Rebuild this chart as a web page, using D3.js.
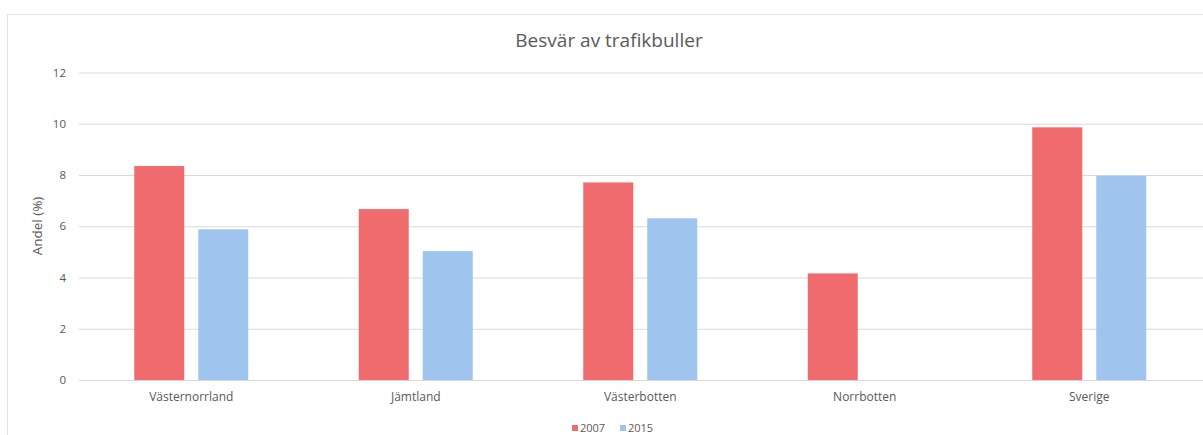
<!DOCTYPE html>
<html>
<head>
<meta charset="utf-8">
<script src="https://cdn.jsdelivr.net/npm/d3@7"></script>
<style>
    body { margin: 0; background: #fff; }
    text { font-family: "Open Sans", sans-serif; fill: #595959; }
</style>
</head>
<body>
<div id="my_chart"></div>
<script>
var categories = ["Västernorrland", "Jämtland", "Västerbotten", "Norrbotten", "Sverige"];
var seriesNames = ["2007", "2015"];
var values2007 = [8.35, 6.67, 7.71, 4.16, 9.86];
var values2015 = [5.88, 5.03, 6.31, null, 7.97];
var yTicks = [0, 2, 4, 6, 8, 10, 12];

var width = 1203, height = 435;
var colors = { "2007": "#EF6B6D", "2015": "#9FC5EE" };

var svg = d3.select("#my_chart")
    .append("svg")
    .attr("width", width)
    .attr("height", height);

// chart frame
svg.append("rect")
    .attr("x", 7.5)
    .attr("y", 14.5)
    .attr("width", 1300)
    .attr("height", 500)
    .attr("fill", "none")
    .attr("stroke", "#e3e3e3");

var xscale = d3.scaleBand()
    .domain(categories)
    .range([79, 1201.5])
    .padding(0);

var xinner = d3.scaleBand()
    .domain(seriesNames)
    .range([-57, 57])
    .paddingInner(14 / 64)
    .paddingOuter(0);

var yscale = d3.scaleLinear()
    .domain([0, 12])
    .range([380, 72.5]);

// gridlines
svg.append("g")
    .selectAll("line")
    .data(yTicks)
    .enter()
    .append("line")
    .attr("x1", 79)
    .attr("x2", 1203)
    .attr("y1", d => yscale(d) + 0.5)
    .attr("y2", d => yscale(d) + 0.5)
    .attr("stroke", "#d9d9d9")
    .attr("stroke-width", 1);

// y axis labels
var yAxis = svg.append("g")
    .attr("transform", "translate(79,0)")
    .call(d3.axisLeft(yscale).tickValues(yTicks).tickSize(0).tickPadding(13));
yAxis.select(".domain").remove();
yAxis.selectAll("text")
    .style("font-size", "11.5px")
    .style("font-family", "'Open Sans', sans-serif")
    .attr("fill", "#595959");

// x axis labels
var xAxis = svg.append("g")
    .attr("transform", "translate(0,380)")
    .call(d3.axisBottom(xscale).tickSize(0).tickPadding(12));
xAxis.select(".domain").remove();
xAxis.selectAll("text")
    .style("font-size", "12px")
    .style("font-family", "'Open Sans', sans-serif")
    .attr("fill", "#595959");

// bars
var barData = [];
categories.forEach(function(c, i) {
    barData.push({ cat: c, series: "2007", value: values2007[i] });
    barData.push({ cat: c, series: "2015", value: values2015[i] });
});

svg.append("g")
    .selectAll("rect")
    .data(barData.filter(d => d.value != null))
    .enter()
    .append("rect")
    .attr("x", d => xscale(d.cat) + xscale.bandwidth() / 2 + xinner(d.series))
    .attr("y", d => yscale(d.value))
    .attr("width", xinner.bandwidth())
    .attr("height", d => yscale(0) - yscale(d.value))
    .attr("fill", d => colors[d.series]);

// title
svg.append("text")
    .attr("x", 609)
    .attr("y", 47)
    .attr("text-anchor", "middle")
    .style("font-size", "19px")
    .text("Besvär av trafikbuller");

// y axis title
svg.append("text")
    .attr("transform", "translate(42,226) rotate(-90)")
    .attr("text-anchor", "middle")
    .style("font-size", "13.5px")
    .text("Andel (%)");

// legend
var legendX = [572, 620];
var legend = svg.append("g");
seriesNames.forEach(function(s, i) {
    legend.append("rect")
        .attr("x", legendX[i])
        .attr("y", 425)
        .attr("width", 6)
        .attr("height", 6)
        .attr("fill", colors[s]);
    legend.append("text")
        .attr("x", legendX[i] + 8)
        .attr("y", 432)
        .style("font-size", "11px")
        .text(s);
});
</script>
</body>
</html>
